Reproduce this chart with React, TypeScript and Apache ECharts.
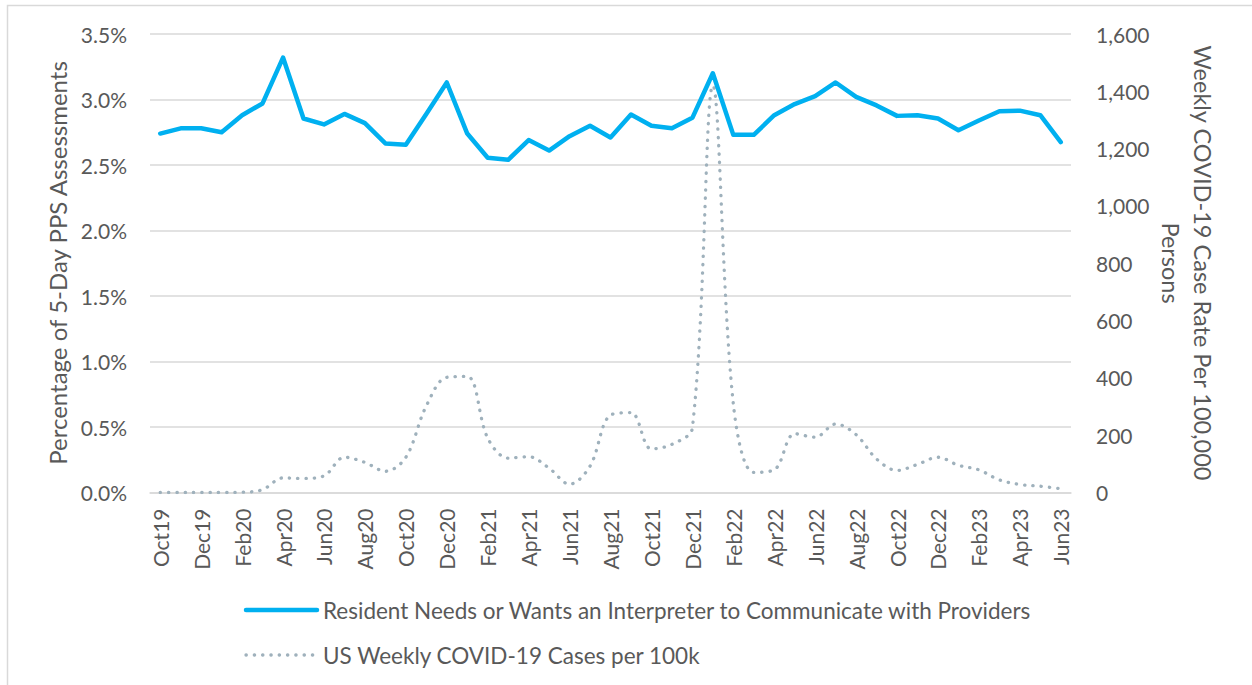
import React, { useEffect, useRef } from "react";
import * as echarts from "echarts";

// Month labels, Oct 2019 through Jun 2023
const months = [
  "Oct19", "Nov19", "Dec19", "Jan20", "Feb20", "Mar20", "Apr20", "May20", "Jun20",
  "Jul20", "Aug20", "Sep20", "Oct20", "Nov20", "Dec20", "Jan21", "Feb21", "Mar21",
  "Apr21", "May21", "Jun21", "Jul21", "Aug21", "Sep21", "Oct21", "Nov21", "Dec21",
  "Jan22", "Feb22", "Mar22", "Apr22", "May22", "Jun22", "Jul22", "Aug22", "Sep22",
  "Oct22", "Nov22", "Dec22", "Jan23", "Feb23", "Mar23", "Apr23", "May23", "Jun23",
];

// Share of 5-Day PPS assessments (%) where the resident needs an interpreter
const interpreterPct = [
  2.74, 2.78, 2.78, 2.75, 2.88, 2.97, 3.32, 2.855, 2.81, 2.89, 2.82, 2.665, 2.655,
  2.89, 3.13, 2.74, 2.555, 2.54, 2.69, 2.61, 2.72, 2.8, 2.71, 2.885, 2.8, 2.78,
  2.86, 3.2, 2.73, 2.73, 2.88, 2.965, 3.025, 3.13, 3.02, 2.955, 2.875, 2.88, 2.855,
  2.765, 2.84, 2.91, 2.915, 2.88, 2.675,
];

// US weekly COVID-19 cases per 100k persons
const covidWeekly = [
  0, 0, 0, 0, 1, 10, 51, 49, 58, 123, 105, 74, 123, 302, 402, 405, 190, 120, 125,
  85, 29, 92, 270, 279, 152, 168, 225, 1420, 310, 70, 79, 205, 193, 239, 202, 117,
  77, 98, 123, 95, 79, 44, 28, 22, 13,
];

const seriesNames = [
  "Resident Needs or Wants an Interpreter to Communicate with Providers",
  "US Weekly COVID-19 Cases per 100k",
];

const leftTitle = "Percentage of 5-Day PPS Assessments";
const rightTitle = "Weekly COVID-19 Case Rate Per 100,000\nPersons";

const FONT = "Lato, 'Noto Sans', sans-serif";
const TEXT = "#595959";
const GRID = "#d9d9d9";
const BLUE = "#00b0f0";
const DOTS = "#9fb1bc";

const blueLine = { stroke: BLUE, lineWidth: 4.5, lineCap: "round" };
const dottedLine = { stroke: DOTS, lineWidth: 3.3, lineCap: "round", lineDash: [0.3, 8] };

export default function App() {
  const ref = useRef<HTMLDivElement>(null);

  useEffect(() => {
    if (!ref.current) return;
    const chart = echarts.init(ref.current, undefined, { renderer: "svg" });

    // Legend rows: a line swatch followed by the series name
    const legendRows = seriesNames.map((name, i) => {
      const y = 610 + i * 45;
      return [
        {
          type: "line",
          silent: true,
          shape: { x1: 246, y1: y, x2: 317, y2: y },
          style: i === 0 ? blueLine : dottedLine,
        },
        {
          type: "text",
          x: 323,
          y,
          silent: true,
          style: {
            text: name,
            font: `22.5px ${FONT}`,
            fill: TEXT,
            align: "left",
            verticalAlign: "middle",
          },
        },
      ];
    }).flat();

    chart.setOption({
      animation: false,
      backgroundColor: "#ffffff",
      textStyle: { fontFamily: FONT },
      grid: { left: 150, right: 181, top: 34, bottom: 192.5 },
      xAxis: {
        type: "category",
        data: months,
        boundaryGap: true,
        axisLine: { lineStyle: { color: GRID, width: 1.5 } },
        axisTick: { show: false },
        axisLabel: {
          interval: 1,
          rotate: 90,
          margin: 16,
          fontSize: 21,
          color: TEXT,
          fontFamily: FONT,
        },
      },
      yAxis: [
        {
          type: "value",
          min: 0,
          max: 3.5,
          interval: 0.5,
          axisLine: { show: false },
          axisTick: { show: false },
          splitLine: { lineStyle: { color: GRID, width: 1.5 } },
          axisLabel: {
            margin: 23,
            fontSize: 21,
            color: TEXT,
            fontFamily: FONT,
            formatter: (v: number) => v.toFixed(1) + "%",
          },
        },
        {
          type: "value",
          position: "right",
          min: 0,
          max: 1600,
          interval: 200,
          axisLine: { show: false },
          axisTick: { show: false },
          splitLine: { show: false },
          axisLabel: {
            margin: 25,
            fontSize: 21,
            color: TEXT,
            fontFamily: FONT,
            formatter: (v: number) => v.toLocaleString("en-US"),
          },
        },
      ],
      series: [
        {
          name: seriesNames[0],
          type: "line",
          yAxisIndex: 0,
          data: interpreterPct,
          symbol: "none",
          z: 3,
          lineStyle: { color: BLUE, width: 4.5, join: "round", cap: "round" },
        },
        {
          name: seriesNames[1],
          type: "line",
          yAxisIndex: 1,
          data: covidWeekly,
          symbol: "none",
          smooth: 0.35,
          z: 2,
          lineStyle: { color: DOTS, width: 3.3, type: [0.3, 8], cap: "round" },
        },
      ],
      graphic: [
        {
          type: "polyline",
          silent: true,
          shape: { points: [[7.5, 700], [7.5, 5.5], [1260, 5.5]] },
          style: { stroke: GRID, lineWidth: 1.5, fill: null },
        },
        {
          type: "text",
          x: 57,
          y: 263,
          rotation: Math.PI / 2,
          silent: true,
          style: {
            text: leftTitle,
            font: `24px ${FONT}`,
            fill: TEXT,
            align: "center",
            verticalAlign: "middle",
          },
        },
        {
          type: "text",
          x: 1187,
          y: 263,
          rotation: -Math.PI / 2,
          silent: true,
          style: {
            text: rightTitle,
            font: `23.5px ${FONT}`,
            fill: TEXT,
            align: "center",
            verticalAlign: "middle",
            lineHeight: 32,
          },
        },
        ...legendRows,
      ],
    });
    return () => chart.dispose();
  }, []);

  return (
    <div
      ref={ref}
      style={{ position: "absolute", left: 0, top: 0, width: 1252, height: 685 }}
    />
  );
}
